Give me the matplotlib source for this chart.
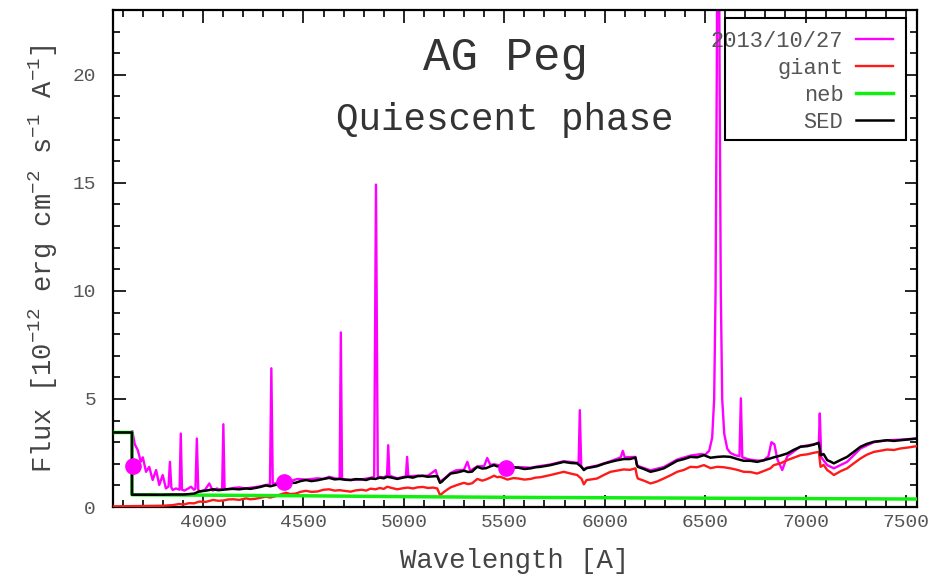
import matplotlib
matplotlib.use("Agg")
import matplotlib.pyplot as plt
from matplotlib.patches import Rectangle
from matplotlib.ticker import MultipleLocator

plt.rcParams['font.family'] = ['Liberation Mono', 'DejaVu Sans Mono']
plt.rcParams['mathtext.fontset'] = 'custom'
plt.rcParams['mathtext.rm'] = 'Liberation Mono'
plt.rcParams['mathtext.it'] = 'Liberation Mono'
plt.rcParams['mathtext.bf'] = 'Liberation Mono'

# observed spectrum 2013/10/27 (magenta)
obs_wave = [3648, 3660, 3675, 3690, 3700, 3716, 3732, 3749, 3766, 3782, 3799, 3815,
            3828, 3835, 3842, 3849, 3865, 3883, 3889, 3895, 3907, 3925, 3940, 3955,
            3962, 3969, 3976, 3985, 4010, 4031, 4048, 4070, 4081, 4095, 4101, 4107,
            4122, 4150, 4180, 4210, 4247, 4280, 4313, 4333, 4340, 4347, 4380, 4413,
            4440, 4470, 4512, 4540, 4570, 4600, 4628, 4660, 4680, 4686, 4692, 4735,
            4790, 4834, 4852, 4861, 4870, 4900, 4916, 4922, 4928, 4967, 5010, 5016,
            5022, 5067, 5120, 5158, 5166, 5180, 5200, 5233, 5260, 5299, 5316, 5330,
            5366, 5400, 5415, 5430, 5449, 5480, 5515, 5570, 5631, 5680, 5730, 5796,
            5863, 5870, 5876, 5883, 5896, 5910, 5962, 6029, 6080, 6090, 6100, 6153,
            6160, 6165, 6228, 6294, 6361, 6427, 6480, 6500, 6520, 6535, 6545, 6552,
            6558, 6562, 6568, 6572, 6578, 6585, 6595, 6610, 6626, 6650, 6671, 6678,
            6685, 6720, 6759, 6790, 6815, 6830, 6845, 6860, 6884, 6909, 6975, 7041,
            7060, 7066, 7071, 7078, 7108, 7141, 7207, 7274, 7340, 7406, 7473, 7555]
obs_flux = [3.50, 2.90, 2.63, 2.10, 2.30, 1.63, 1.86, 1.25, 1.71, 1.02, 1.48, 0.86,
            0.95, 2.09, 0.90, 0.79, 0.86, 0.80, 3.40, 0.80, 0.76, 0.85, 0.94, 0.80,
            0.85, 3.17, 0.80, 0.71, 0.80, 1.09, 0.76, 0.86, 0.80, 0.85, 3.83, 0.85,
            0.82, 0.88, 0.91, 0.86, 0.91, 0.95, 1.02, 1.05, 6.42, 1.08, 1.12, 1.18,
            1.22, 1.30, 1.27, 1.30, 1.33, 1.30, 1.40, 1.32, 1.30, 8.08, 1.30, 1.25,
            1.28, 1.35, 1.40, 14.92, 1.40, 1.38, 1.45, 2.86, 1.45, 1.33, 1.42, 2.32,
            1.42, 1.45, 1.45, 1.71, 1.45, 1.18, 1.30, 1.58, 1.70, 1.72, 2.09, 1.68,
            1.88, 1.90, 2.27, 1.95, 1.98, 1.92, 1.82, 1.85, 1.82, 1.90, 1.97, 2.12,
            2.05, 2.00, 4.48, 1.85, 1.75, 1.82, 1.92, 2.12, 2.30, 2.60, 2.30, 2.32,
            1.98, 1.90, 1.70, 1.85, 2.20, 2.38, 2.45, 2.42, 2.60, 3.20, 5.00, 10.0,
            20.0, 30.0, 30.0, 20.0, 10.0, 5.00, 3.40, 2.70, 2.50, 2.40, 2.35, 5.03,
            2.30, 2.20, 2.15, 2.15, 2.35, 3.00, 2.90, 2.20, 1.71, 2.35, 2.80, 2.90,
            2.95, 2.90, 4.33, 2.30, 1.94, 1.79, 2.09, 2.71, 3.00, 3.09, 3.12, 3.17]

# giant model (red)
giant_wave = [3550, 3650, 3750, 3800, 3850, 3880, 3905, 3930, 3955, 3980, 4015, 4050,
              4075, 4100, 4125, 4150, 4180, 4214, 4235, 4260, 4285, 4313, 4335, 4360,
              4385, 4413, 4435, 4460, 4485, 4512, 4540, 4570, 4600, 4628, 4655, 4680,
              4710, 4735, 4760, 4790, 4812, 4834, 4858, 4880, 4900, 4917, 4940, 4967,
              4995, 5020, 5045, 5067, 5095, 5120, 5145, 5166, 5180, 5190, 5200, 5215,
              5233, 5265, 5299, 5320, 5340, 5355, 5366, 5390, 5410, 5430, 5449, 5465,
              5480, 5500, 5515, 5545, 5570, 5600, 5631, 5655, 5680, 5705, 5730, 5765,
              5796, 5830, 5863, 5885, 5896, 5910, 5935, 5962, 5995, 6029, 6060, 6095,
              6125, 6153, 6160, 6165, 6195, 6228, 6260, 6294, 6330, 6361, 6395, 6427,
              6460, 6494, 6527, 6560, 6593, 6626, 6660, 6692, 6725, 6759, 6790, 6825,
              6842, 6875, 6909, 6940, 6975, 7010, 7041, 7066, 7075, 7090, 7108, 7125,
              7141, 7175, 7207, 7240, 7274, 7305, 7340, 7370, 7406, 7440, 7473, 7515,
              7555]
giant_flux = [0.03, 0.04, 0.05, 0.06, 0.09, 0.14, 0.12, 0.18, 0.17, 0.25, 0.24, 0.33,
              0.29, 0.30, 0.35, 0.36, 0.33, 0.40, 0.36, 0.38, 0.43, 0.48, 0.44, 0.50,
              0.58, 0.66, 0.60, 0.62, 0.70, 0.75, 0.70, 0.72, 0.80, 0.82, 0.76, 0.78,
              0.74, 0.71, 0.77, 0.80, 0.76, 0.85, 0.82, 0.88, 0.84, 0.94, 0.88, 0.82,
              0.87, 0.90, 0.86, 0.91, 0.93, 0.88, 0.90, 0.86, 0.55, 0.62, 0.70, 0.80,
              0.91, 1.02, 1.12, 1.06, 1.10, 1.22, 1.30, 1.22, 1.28, 1.36, 1.45, 1.38,
              1.40, 1.33, 1.27, 1.34, 1.32, 1.27, 1.30, 1.36, 1.38, 1.43, 1.48, 1.56,
              1.63, 1.55, 1.48, 1.30, 1.05, 1.25, 1.28, 1.32, 1.48, 1.63, 1.68, 1.74,
              1.72, 1.79, 1.45, 1.32, 1.22, 1.09, 1.18, 1.32, 1.48, 1.63, 1.72, 1.86,
              1.84, 1.94, 1.80, 1.86, 1.84, 1.79, 1.72, 1.63, 1.62, 1.55, 1.66, 1.79,
              1.94, 2.02, 2.17, 2.28, 2.40, 2.44, 2.51, 2.55, 1.86, 1.95, 1.71, 1.60,
              1.48, 1.66, 1.79, 2.02, 2.25, 2.42, 2.55, 2.60, 2.66, 2.64, 2.71, 2.76,
              2.82]

# nebular continuum (green)
neb_wave = [3550, 3646, 3646, 4000, 4500, 5000, 5500, 6000, 6500, 7000, 7555]
neb_flux = [3.45, 3.45, 0.57, 0.55, 0.52, 0.48, 0.45, 0.43, 0.41, 0.39, 0.37]

# total SED (black)
sed_wave = [3550, 3646, 3646, 3750, 3800, 3850, 3880, 3905, 3930, 3955, 3980, 4015,
            4050, 4075, 4100, 4125, 4150, 4180, 4214, 4235, 4260, 4285, 4313, 4335,
            4360, 4385, 4413, 4435, 4460, 4485, 4512, 4540, 4570, 4600, 4628, 4655,
            4680, 4710, 4735, 4760, 4790, 4812, 4834, 4858, 4880, 4900, 4917, 4940,
            4967, 4995, 5020, 5045, 5067, 5095, 5120, 5145, 5166, 5180, 5190, 5200,
            5215, 5233, 5265, 5299, 5320, 5340, 5355, 5366, 5390, 5410, 5430, 5449,
            5465, 5480, 5500, 5515, 5545, 5570, 5600, 5631, 5655, 5680, 5705, 5730,
            5765, 5796, 5830, 5863, 5885, 5896, 5910, 5935, 5962, 5995, 6029, 6060,
            6095, 6125, 6153, 6160, 6165, 6195, 6228, 6260, 6294, 6330, 6361, 6395,
            6427, 6460, 6494, 6527, 6560, 6593, 6626, 6660, 6692, 6725, 6759, 6790,
            6825, 6842, 6875, 6909, 6940, 6975, 7010, 7041, 7066, 7075, 7090, 7108,
            7125, 7141, 7175, 7207, 7240, 7274, 7305, 7340, 7370, 7406, 7440, 7473,
            7515, 7555]
sed_flux = [3.45, 3.45, 0.57, 0.57, 0.57, 0.58, 0.58, 0.58, 0.60, 0.62, 0.72, 0.76,
            0.82, 0.78, 0.80, 0.83, 0.84, 0.82, 0.86, 0.84, 0.88, 0.93, 1.00, 0.96,
            1.02, 1.10, 1.17, 1.12, 1.12, 1.20, 1.25, 1.20, 1.24, 1.30, 1.35, 1.28,
            1.30, 1.26, 1.25, 1.29, 1.28, 1.25, 1.32, 1.30, 1.36, 1.33, 1.40, 1.36,
            1.30, 1.36, 1.40, 1.36, 1.43, 1.44, 1.40, 1.42, 1.43, 1.12, 1.18, 1.28,
            1.40, 1.55, 1.60, 1.68, 1.62, 1.64, 1.78, 1.86, 1.78, 1.80, 1.88, 1.94,
            1.88, 1.90, 1.84, 1.79, 1.84, 1.82, 1.76, 1.79, 1.84, 1.86, 1.90, 1.94,
            2.02, 2.09, 2.04, 2.02, 1.85, 1.71, 1.80, 1.84, 1.89, 2.00, 2.09, 2.16,
            2.22, 2.22, 2.29, 1.95, 1.86, 1.76, 1.63, 1.70, 1.79, 1.98, 2.14, 2.22,
            2.32, 2.30, 2.40, 2.28, 2.32, 2.34, 2.32, 2.22, 2.14, 2.14, 2.09, 2.16,
            2.25, 2.30, 2.38, 2.48, 2.64, 2.79, 2.82, 2.89, 2.97, 2.40, 2.45, 2.17,
            2.10, 2.02, 2.18, 2.32, 2.55, 2.79, 2.92, 3.02, 3.05, 3.09, 3.06, 3.09,
            3.13, 3.17]

# UBV photometry
phot_wave = [3650, 4405, 5506]
phot_flux = [1.90, 1.17, 1.79]

fig = plt.figure(figsize=(9.36, 5.84), dpi=100)
ax = fig.add_axes([0.1204, 0.1318, 0.8593, 0.8511])

ax.plot(obs_wave, obs_flux, color='#ff00ff', lw=1.7, label='2013/10/27', zorder=2)
ax.plot(giant_wave, giant_flux, color='#ff1a1a', lw=1.7, label='giant', zorder=3)
ax.plot(neb_wave, neb_flux, color='#11ee11', lw=2.5, label='neb', zorder=4)
ax.plot(sed_wave, sed_flux, color='black', lw=1.8, label='SED', zorder=5)
ax.plot(phot_wave, phot_flux, 'o', color='#ff00ff', ms=11, zorder=6)

ax.set_xlim(3550, 7555)
ax.set_ylim(0, 23)
ax.xaxis.set_major_locator(MultipleLocator(500))
ax.xaxis.set_minor_locator(MultipleLocator(100))
ax.yaxis.set_major_locator(MultipleLocator(5))
ax.yaxis.set_minor_locator(MultipleLocator(1))
ax.tick_params(which='both', direction='in', top=True, right=True,
               labelsize=14, labelcolor='#555555', width=1.2)
ax.tick_params(which='major', length=9)
ax.tick_params(which='minor', length=5)
ax.tick_params(axis='y', pad=12)
ax.tick_params(axis='x', pad=5)
for sp in ax.spines.values():
    sp.set_linewidth(1.6)

ax.set_xlabel('Wavelength [A]', fontsize=19.7, color='#444444', labelpad=12)
ax.set_ylabel('Flux [10$^{-12}$ erg cm$^{-2}$ s$^{-1}$ A$^{-1}$]',
              fontsize=19.5, color='#444444', labelpad=9)

ax.text(0.488, 0.903, 'AG Peg', transform=ax.transAxes, ha='center', va='center',
        fontsize=33, color='#333333')
ax.text(0.488, 0.779, 'Quiescent phase', transform=ax.transAxes, ha='center',
        va='center', fontsize=27, color='#333333')

# legend entries without frame, box drawn separately (gnuplot style key)
leg = ax.legend(loc='upper right', bbox_to_anchor=(0.9863, 0.9839), borderaxespad=0,
                markerfirst=False, frameon=False, fontsize=15.8, handlelength=1.7,
                handletextpad=0.55, labelspacing=0.27, borderpad=0.6)
for t in leg.get_texts():
    t.set_color('#555555')
ax.add_patch(Rectangle((0.7613, 0.7384), 0.9863 - 0.7613, 0.9839 - 0.7384,
                       transform=ax.transAxes, fill=False, edgecolor='black',
                       lw=1.5, zorder=7))

fig.savefig('out.png', dpi=100)
